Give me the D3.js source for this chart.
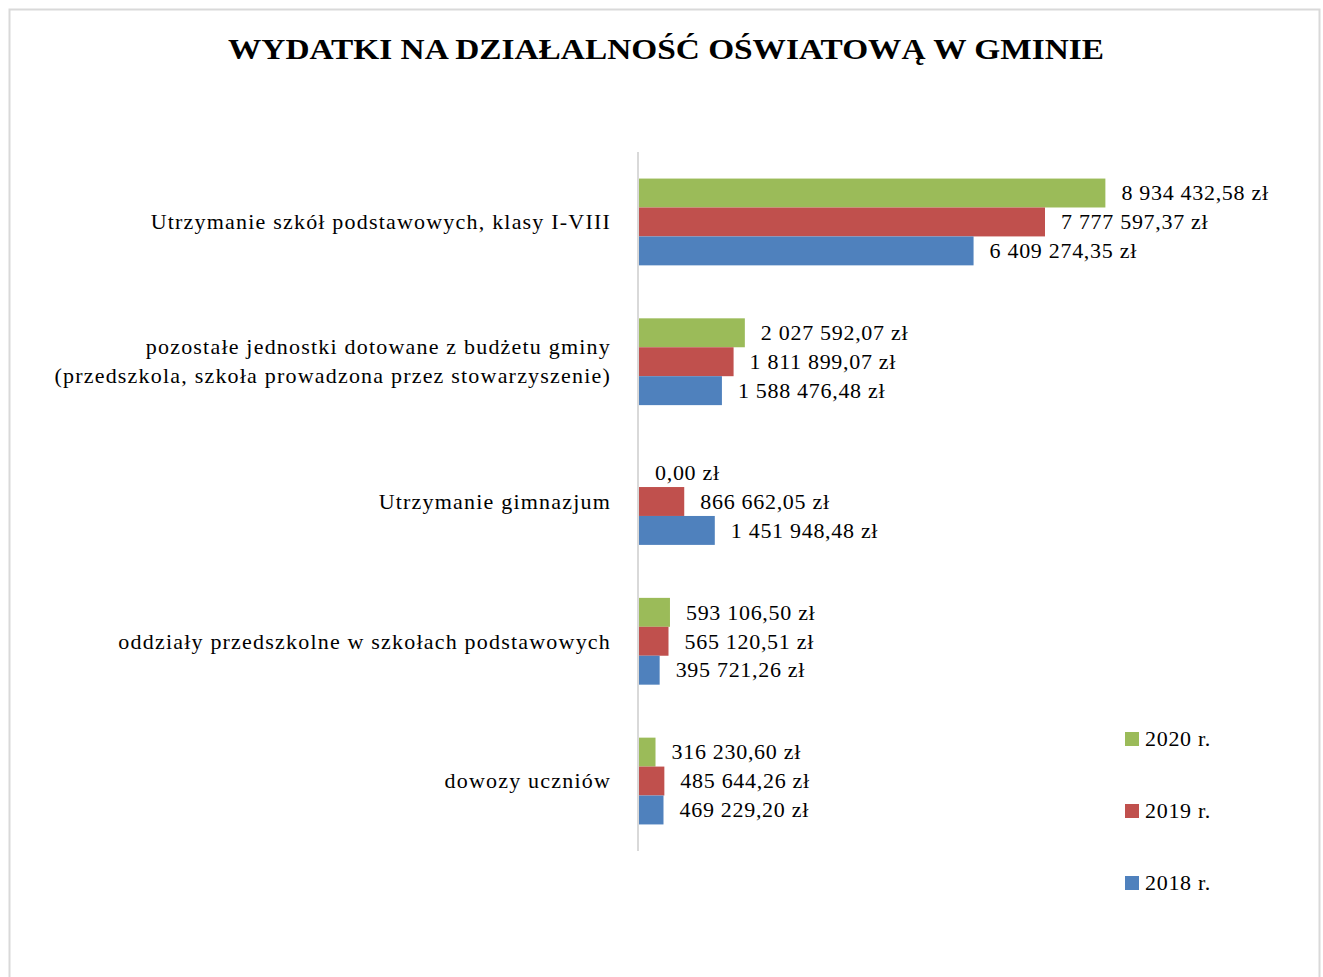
<!DOCTYPE html>
<html>
<head>
<meta charset="utf-8">
<script src="https://cdn.jsdelivr.net/npm/d3@7"></script>
<style>
  body { margin: 0; background: #fff; }
  text { font-family: "Liberation Serif", "DejaVu Serif", serif; fill: #000; }
  .lbl { letter-spacing: 0.7px; }
  .cat { letter-spacing: 1.2px; }
</style>
</head>
<body>
<div id="chart"></div>
<script>
// === DANE ===
const categories = [
  ["Utrzymanie szkół podstawowych, klasy I-VIII"],
  ["pozostałe jednostki dotowane z budżetu gminy", "(przedszkola, szkoła prowadzona przez stowarzyszenie)"],
  ["Utrzymanie gimnazjum"],
  ["oddziały przedszkolne w szkołach podstawowych"],
  ["dowozy uczniów"]
];
const years = ["2020 r.", "2019 r.", "2018 r."];
const values2020 = [8934432.58, 2027592.07, 0.00, 593106.50, 316230.60];
const values2019 = [7777597.37, 1811899.07, 866662.05, 565120.51, 485644.26];
const values2018 = [6409274.35, 1588476.48, 1451948.48, 395721.26, 469229.20];
const colors = ["#9BBB59", "#C0504D", "#4F81BD"];

const width = 1323, height = 977;
const svg = d3.select("#chart").append("svg")
  .attr("width", width)
  .attr("height", height);

// ramka wykresu
svg.append("rect")
  .attr("x", 9.5).attr("y", 9.5)
  .attr("width", 1310).attr("height", 980)
  .attr("fill", "none")
  .attr("stroke", "#d9d9d9")
  .attr("stroke-width", 2);

svg.append("text")
  .attr("x", 666)
  .attr("y", 59)
  .attr("text-anchor", "middle")
  .attr("font-weight", "bold")
  .attr("font-size", "30px")
  .attr("textLength", 876)
  .attr("lengthAdjust", "spacingAndGlyphs")
  .text("WYDATKI NA DZIAŁALNOŚĆ OŚWIATOWĄ W GMINIE");

// === SKALE ===
const axisX = 639;
const plotTop = 152, plotBottom = 851;
const series = [values2020, values2019, values2018];

const x = d3.scaleLinear().domain([0, 10000000]).range([axisX, axisX + 522]);
const y = d3.scaleBand().domain(d3.range(categories.length)).range([plotTop, plotBottom]).paddingInner(0.379).paddingOuter(0.19);
const ySub = d3.scaleBand().domain(d3.range(years.length)).range([0, y.bandwidth()]);

const pl = d3.formatLocale({ decimal: ",", thousands: " ", grouping: [3], currency: ["", " zł"] });
const fmt = v => pl.format(",.2f")(v) + " zł";

const g = svg.append("g");

series.forEach((vals, si) => {
  g.selectAll(".bar-" + si)
    .data(vals)
    .join("rect")
    .attr("class", "bar-" + si)
    .attr("x", axisX)
    .attr("y", (d, i) => y(i) + ySub(si))
    .attr("width", d => x(d) - axisX)
    .attr("height", ySub.bandwidth())
    .attr("fill", colors[si]);

  g.selectAll(".lab-" + si)
    .data(vals)
    .join("text")
    .attr("class", "lbl lab-" + si)
    .attr("x", d => x(d) + 16)
    .attr("y", (d, i) => y(i) + ySub(si) + ySub.bandwidth() / 2)
    .attr("dy", "0.33em")
    .attr("font-size", "22px")
    .text(d => fmt(d));
});

// oś pionowa
svg.append("line")
  .attr("x1", axisX - 1).attr("x2", axisX - 1)
  .attr("y1", plotTop).attr("y2", plotBottom)
  .attr("stroke", "#d9d9d9")
  .attr("stroke-width", 2);

// etykiety kategorii
categories.forEach((lines, i) => {
  const cy = y(i) + y.bandwidth() / 2;
  const t = svg.append("text")
    .attr("class", "cat")
    .attr("x", 611)
    .attr("text-anchor", "end")
    .attr("font-size", "22px");
  lines.forEach((ln, j) => {
    t.append("tspan")
      .attr("x", 611)
      .attr("y", cy + (j - (lines.length - 1) / 2) * 29)
      .attr("dy", "0.33em")
      .text(ln);
  });
});

// legenda
const legend = svg.append("g");
years.forEach((yr, i) => {
  const ly = 739 + i * 72;
  legend.append("rect")
    .attr("x", 1125).attr("y", ly - 7)
    .attr("width", 14).attr("height", 14)
    .attr("fill", colors[i]);
  legend.append("text")
    .attr("class", "lbl")
    .attr("x", 1145).attr("y", ly)
    .attr("dy", "0.33em")
    .attr("font-size", "22px")
    .text(yr);
});
</script>
</body>
</html>
